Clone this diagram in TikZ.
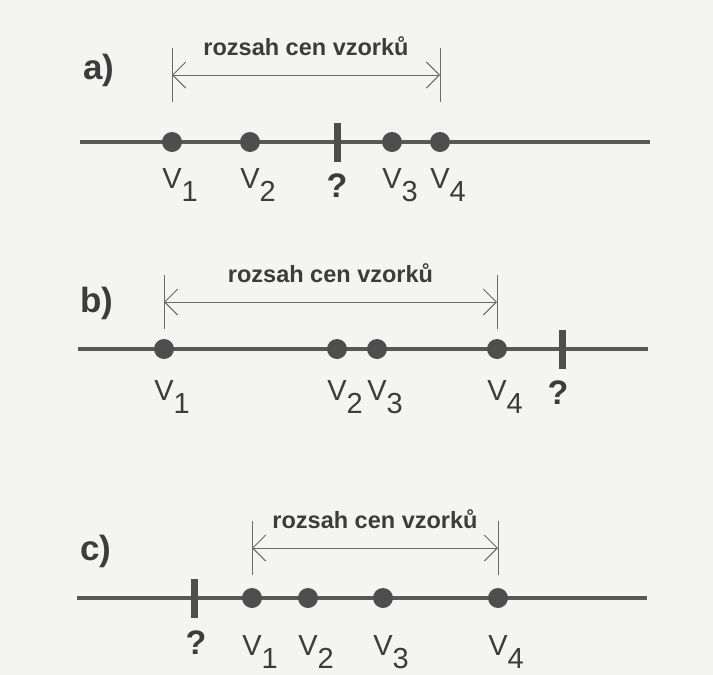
\documentclass[tikz,border=0pt]{standalone}
\usepackage{fontspec}
\setmainfont{Liberation Sans}
\usetikzlibrary{arrows.meta}
\definecolor{paper}{HTML}{F4F4F2}
\definecolor{dotgray}{HTML}{4E4E4E}
\definecolor{linegray}{HTML}{585858}
\definecolor{rangegray}{HTML}{6A6A6A}
\definecolor{txtgray}{HTML}{3C3C3C}
\newcommand\vsub[1]{V\rlap{\raisebox{-0.45em}{#1}}}

\begin{document}
\begin{tikzpicture}[x=1pt,y=-1pt,
  dot/.style={circle,fill=dotgray,inner sep=0pt,minimum size=20pt},
  qtick/.style={rectangle,fill=dotgray,inner sep=0pt,minimum width=7pt,minimum height=39pt},
  axis/.style={line width=4.5pt,draw=linegray},
  spanline/.style={line width=1pt,draw=rangegray},
  spanarrow/.style={spanline,{Straight Barb[length=13pt,width=26pt]}-{Straight Barb[length=13pt,width=26pt]}},
  spantxt/.style={anchor=base,inner sep=0pt,text=txtgray,font=\bfseries\fontsize{23.5}{24}\selectfont},
  vlbl/.style={anchor=north,inner sep=0pt,text=txtgray,font=\fontsize{29}{29}\selectfont},
  qlbl/.style={vlbl,font=\bfseries\fontsize{34}{34}\selectfont},
  part/.style={inner sep=0pt,text=txtgray,font=\bfseries\fontsize{35}{36}\selectfont}]
  \fill[paper] (0,0) rectangle (713,675);
  \useasboundingbox (0,0) rectangle (713,675);

  % a) value lies inside the range
  \node[part] (pa) at (99,70) {a)};
  \coordinate (a0) at (80,142); \coordinate (a5) at (650,142);
  \draw[axis] (a0) -- (a5);
  \node[qtick] (aq) at (337,142) {};
  \node[qlbl] (laq) at (337,174) {?};
  \foreach \x/\i in {172/1,250/2,392/3,440/4} {
    \node[dot] (a\i) at (\x,142) {};
    \node[vlbl] (la\i) at (\x,168) {\vsub{\i}};
  }
  \coordinate (aL) at (a1 |- 0,75); \coordinate (aR) at (a4 |- 0,75);
  \draw[spanline] ([yshift=27pt]aL) -- ([yshift=-27pt]aL);
  \draw[spanline] ([yshift=27pt]aR) -- ([yshift=-27pt]aR);
  \draw[spanarrow] (aL) -- (aR) node[spantxt,midway,yshift=20pt] (ta) {rozsah cen vzorků};

  % b) value above the range
  \node[part] (pb) at (97,303) {b)};
  \coordinate (b0) at (78,349); \coordinate (b5) at (648,349);
  \draw[axis] (b0) -- (b5);
  \node[qtick] (bq) at (562,349) {};
  \node[qlbl] (lbq) at (558,381) {?};
  \foreach \x/\i in {164/1,337/2,377/3,497/4} {
    \node[dot] (b\i) at (\x,349) {};
    \node[vlbl] (lb\i) at (\x,380) {\vsub{\i}};
  }
  \coordinate (bL) at (b1 |- 0,302); \coordinate (bR) at (b4 |- 0,302);
  \draw[spanline] ([yshift=27pt]bL) -- ([yshift=-27pt]bL);
  \draw[spanline] ([yshift=27pt]bR) -- ([yshift=-27pt]bR);
  \draw[spanarrow] (bL) -- (bR) node[spantxt,midway,yshift=20pt] (tb) {rozsah cen vzorků};

  % c) value below the range
  \node[part] (pc) at (96,551) {c)};
  \coordinate (c0) at (77,598); \coordinate (c5) at (647,598);
  \draw[axis] (c0) -- (c5);
  \node[qtick] (cq) at (194,598) {};
  \node[qlbl] (lcq) at (196,631) {?};
  \foreach \x/\i in {252/1,308/2,383/3,498/4} {
    \node[dot] (c\i) at (\x,598) {};
    \node[vlbl] (lc\i) at (\x,635) {\vsub{\i}};
  }
  \coordinate (cL) at (c1 |- 0,548); \coordinate (cR) at (c4 |- 0,548);
  \draw[spanline] ([yshift=27pt]cL) -- ([yshift=-27pt]cL);
  \draw[spanline] ([yshift=27pt]cR) -- ([yshift=-27pt]cR);
  \draw[spanarrow] (cL) -- (cR) node[spantxt,midway,yshift=20pt] (tc) {rozsah cen vzorků};
\end{tikzpicture}
\end{document}
